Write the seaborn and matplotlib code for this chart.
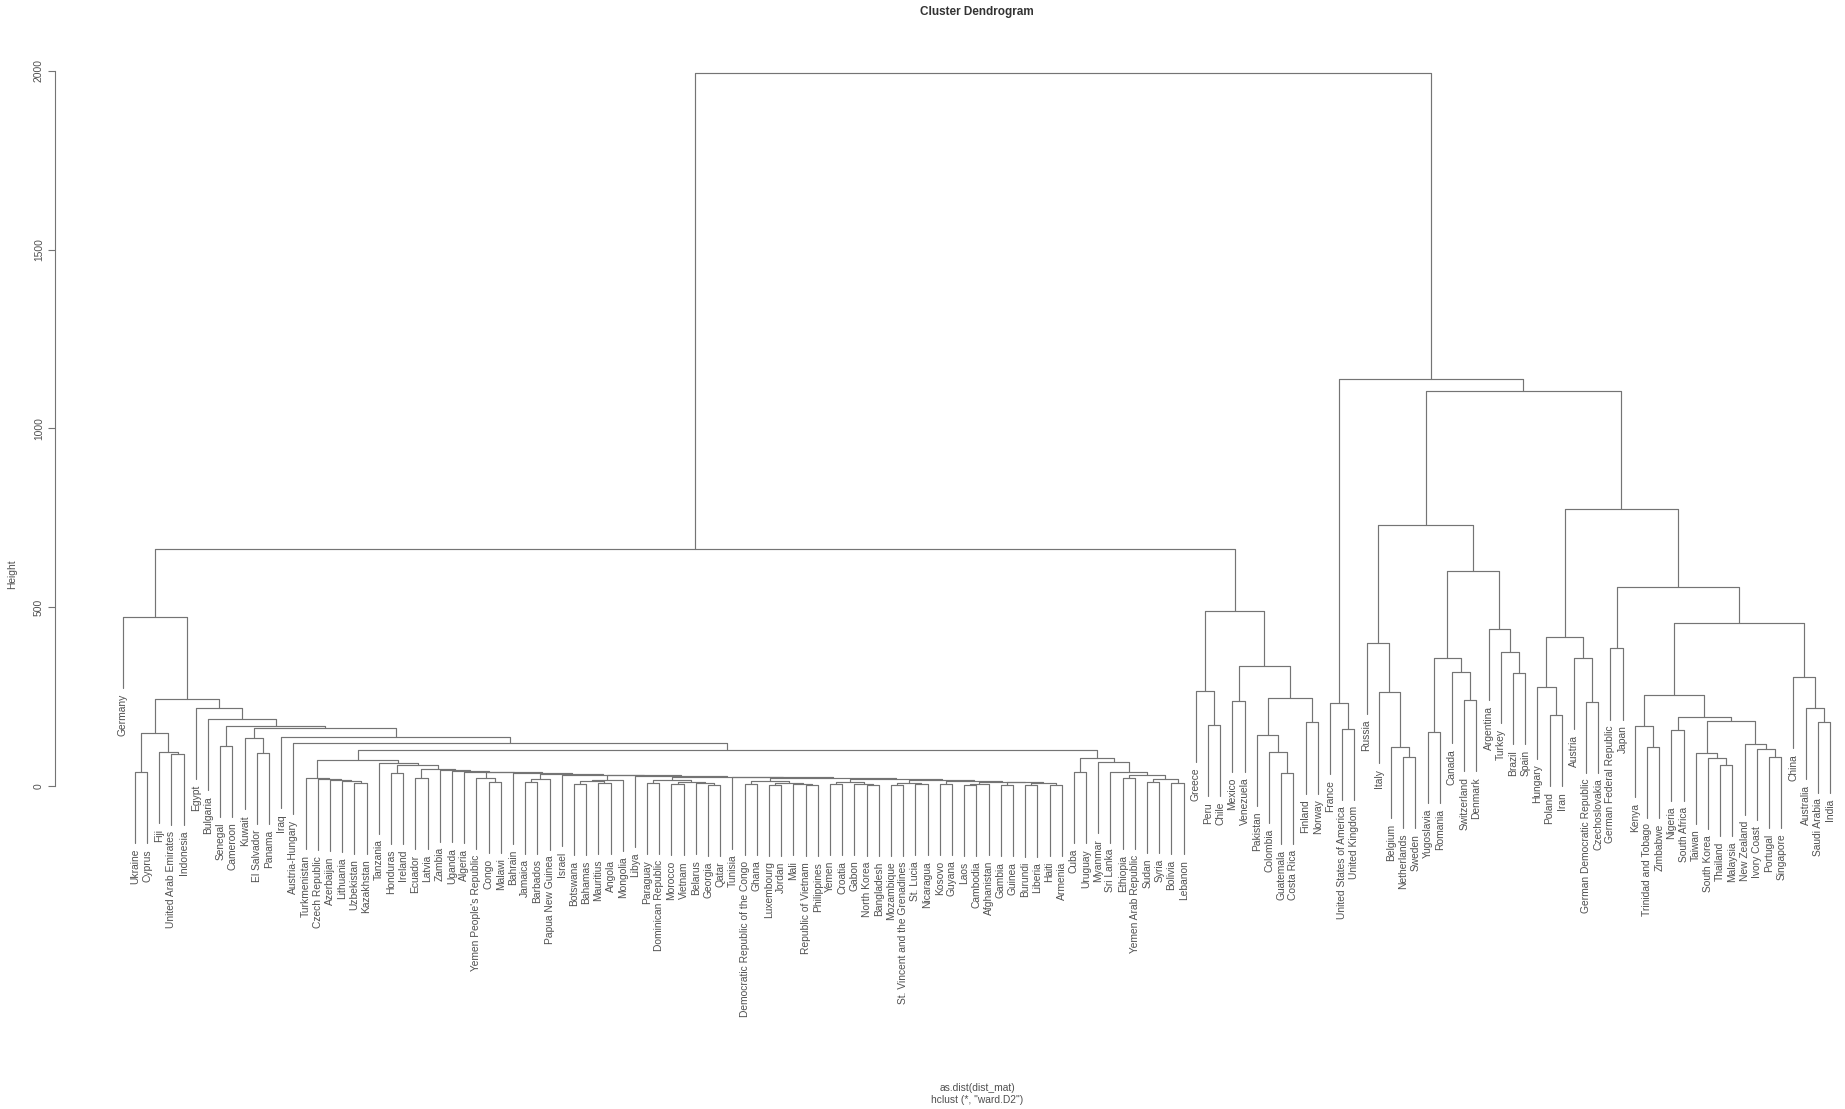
import matplotlib
matplotlib.use("Agg")
import matplotlib.pyplot as plt
import pandas as pd
import seaborn as sns

# ---------------- data: hclust (ward.D2) merges, node = (height, left, right) ----------------
ukraine_grp = (149, (39, "Ukraine", "Cyprus"),
               (95, "Fiji", (90, "United Arab Emirates", "Indonesia")))
kuwait_grp = (134, "Kuwait", (92, "El Salvador", "Panama"))
senegal_grp = (113, "Senegal", "Cameroon")
turkmen_grp = (22, "Turkmenistan", (20, "Czech Republic", (17, "Azerbaijan",
               (14, "Lithuania", (9, "Uzbekistan", "Kazakhstan")))))

# the long low "comb" of small states: blocks joined one after another
mid_blocks = [
    "Tanzania",
    (36, "Honduras", "Ireland"),
    (22, "Ecuador", "Latvia"),
    "Zambia",
    "Uganda",
    "Algeria",
    (22, "Yemen People's Republic", (12, "Congo", "Malawi")),
    "Bahrain",
    (20, (10, "Jamaica", "Barbados"), "Papua New Guinea"),
    "Israel",
    (18, (14, (6, "Botswana", "Bahamas"), (9, "Mauritius", "Angola")), "Mongolia"),
    "Libya",
    (16, (8, "Paraguay", "Dominican Republic"),
     (11, (5, "Morocco", "Vietnam"), (8, "Belarus", (4, "Georgia", "Qatar")))),
    "Tunisia",
    (13, (6, "Democratic Republic of the Congo", "Ghana"),
     (9, (4, "Luxembourg", "Jordan"), (6, "Mali", (3, "Republic of Vietnam", "Philippines")))),
    (10, (5, "Yemen", "Croatia"), (6, "Gabon", (3, "North Korea", "Bangladesh"))),
    (8, (4, "Mozambique", "St. Vincent and the Grenadines"), (5, "St. Lucia", "Nicaragua")),
    (6, "Kosovo", "Guyana"),
    (5, (3, "Laos", "Cambodia"), "Afghanistan"),
    (3, "Gambia", "Guinea"),
]
mid_join_heights = [65, 58, 47, 44, 42, 40, 38, 36, 34, 32, 30, 28, 26, 24, 22, 20, 18, 15, 12, 10]
mid_tail = (7, (2, "Burundi", "Liberia"), (4, "Haiti", "Armenia"))

cuba_grp = (78, (39, "Cuba", "Uruguay"),
            (67, "Myanmar", (40, "Sri Lanka",
                             (31, (22, "Ethiopia", "Yemen Arab Republic"),
                              (20, (12, "Sudan", "Syria"), (8, "Bolivia", "Lebanon"))))))

latin_grp = (490, (266, "Greece", (170, "Peru", "Chile")),
             (335, (238, "Mexico", "Venezuela"),
              (246, (143, "Pakistan", (95, "Colombia", (36, "Guatemala", "Costa Rica"))),
               (178, "Finland", "Norway"))))

great_grp = (232, "France", (159, "United States of America", "United Kingdom"))
europe_grp = (730,
              (400, "Russia", (263, "Italy", (109, "Belgium", (81, "Netherlands", "Sweden")))),
              (601, (358, (151, "Yugoslavia", "Romania"),
                     (319, "Canada", (240, "Switzerland", "Denmark"))),
               (439, "Argentina", (375, "Turkey", (316, "Brazil", "Spain")))))
central_grp = (418, (276, "Hungary", (198, "Poland", "Iran")),
               (358, "Austria", (236, "German Democratic Republic", "Czechoslovakia")))
asia_grp = (556, (385, "German Federal Republic", "Japan"),
            (457, (254, (168, "Kenya", (110, "Trinidad and Tobago", "Zimbabwe")),
                   (192, (157, "Nigeria", "South Africa"),
                    (183, (93, "Taiwan", (78, "South Korea", (59, "Thailand", "Malaysia"))),
                     (117, "New Zealand", (104, "Ivory Coast", (82, "Portugal", "Singapore")))))),
             (305, "China", (219, "Australia", (180, "Saudi Arabia", "India")))))

upper_heights = dict(turk_mid=73, with_cuba=100, austria_hungary=120, iraq=137,
                     kuwait=162, senegal=167, bulgaria=187, egypt=218, ukraine=243,
                     germany=473, left=664, central_asia=776, world_powers=1105,
                     right=1138, root=1995)

# ---------------- assemble tree ----------------
comb = mid_tail
for blk, h in reversed(list(zip(mid_blocks, mid_join_heights))):
    comb = (h, blk, comb)
H = upper_heights
node = (H["turk_mid"], turkmen_grp, comb)
node = (H["with_cuba"], node, cuba_grp)
node = (H["austria_hungary"], "Austria-Hungary", node)
node = (H["iraq"], "Iraq", node)
node = (H["kuwait"], kuwait_grp, node)
node = (H["senegal"], senegal_grp, node)
node = (H["bulgaria"], "Bulgaria", node)
node = (H["egypt"], "Egypt", node)
node = (H["ukraine"], ukraine_grp, node)
group_a = (H["germany"], "Germany", node)
left = (H["left"], group_a, latin_grp)
right = (H["right"], great_grp,
         (H["world_powers"], europe_grp, (H["central_asia"], central_grp, asia_grp)))
root = (H["root"], left, right)

heights = []
def all_heights(n):
    if isinstance(n, str):
        return
    heights.append(n[0]); all_heights(n[1]); all_heights(n[2])
all_heights(root)
hang = 0.1 * (max(heights) - min(heights))

rows, leaves, counter = [], [], [0]
def place(n):
    if isinstance(n, str):
        counter[0] += 1
        return float(counter[0]), None
    h, a, b = n
    xa, ya = place(a)
    xb, yb = place(b)
    if ya is None:
        ya = h - hang; leaves.append((a, xa, ya))
    if yb is None:
        yb = h - hang; leaves.append((b, xb, yb))
    for k, (px, py) in enumerate([(xa, ya), (xa, h), (xb, h), (xb, yb)]):
        rows.append(dict(order=k, x=px, y=py))
    return (xa + xb) / 2.0, h
place(root)
segs = pd.DataFrame(rows)
segs["seg"] = segs.index // 4
n_leaves = counter[0]

# ---------------- plot ----------------
sns.set_theme(style="ticks")
plt.rcParams["font.family"] = ["Liberation Sans", "DejaVu Sans"]

LINE = "#747474"
TXT = "#505050"
W, Hpx = 1845, 1109
fig = plt.figure(figsize=(W / 100, Hpx / 100), dpi=100)
ax_l, ax_r, ax_t, ax_b = 55, 1898, 43, 888
ax = fig.add_axes([ax_l / W, 1 - ax_b / Hpx, (ax_r - ax_l) / W, (ax_b - ax_t) / Hpx])

sns.lineplot(data=segs, x="x", y="y", units="seg", estimator=None, sort=False,
             color=LINE, linewidth=0.85, ax=ax)

for name, x, y in leaves:
    ax.annotate(name, xy=(x, y), xytext=(0, -4), textcoords="offset points",
                rotation=90, ha="center", va="top", fontsize=7.4, color=TXT,
                annotation_clip=False)

spacing = (1830 - 122.7) / (n_leaves - 1)
ax.set_xlim(1 - (122.7 - ax_l) / spacing, n_leaves + (ax_r - 1830) / spacing)
ax.set_ylim((786 - ax_b) / 0.3576, (786 - ax_t) / 0.3576)
ax.set_xticks([])
ax.set_yticks([0, 500, 1000, 1500, 2000])
ax.set_yticklabels(["0", "500", "1000", "1500", "2000"], rotation=90, va="center",
                   fontsize=7.4, color=TXT)
ax.tick_params(axis="y", length=5, width=0.8, color=LINE, pad=3)
ax.set_xlabel(""); ax.set_ylabel("")
sns.despine(ax=ax, top=True, right=True, bottom=True, left=False)
ax.spines["left"].set_bounds(0, 2000)
ax.spines["left"].set_color(LINE)
ax.spines["left"].set_linewidth(0.8)
ax.patch.set_alpha(0)

fig.text(977 / W, 1 - 12 / Hpx, "Cluster Dendrogram", ha="center", va="center",
         fontsize=8.5, fontweight="bold", color="#333333")
fig.text(12 / W, 1 - 574 / Hpx, "Height", rotation=90, ha="center", va="center",
         fontsize=7.4, color=TXT)
fig.text(977 / W, 1 - 1088 / Hpx, "as.dist(dist_mat)", ha="center", va="center",
         fontsize=7.4, color=TXT)
fig.text(977 / W, 1 - 1100 / Hpx, 'hclust (*, "ward.D2")', ha="center", va="center",
         fontsize=7.4, color=TXT)

fig.savefig("out.png", dpi=100, facecolor="white")
